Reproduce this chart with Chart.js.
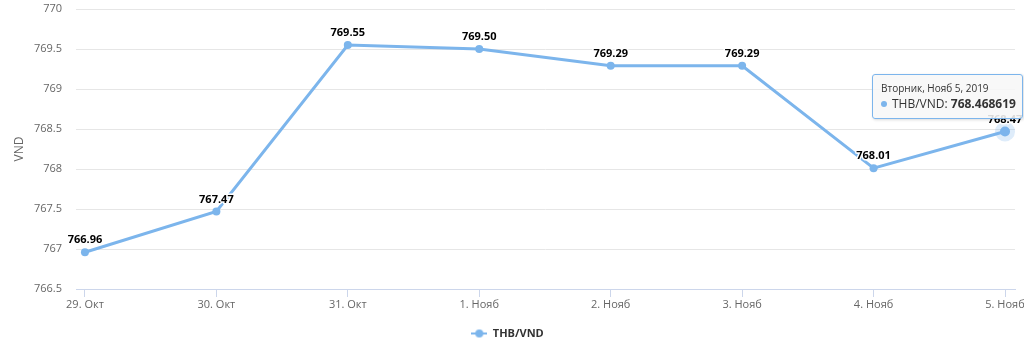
<!DOCTYPE html>
<html>
<head>
<meta charset="utf-8">
<script src="https://cdn.jsdelivr.net/npm/chart.js@4.4.0/dist/chart.umd.min.js"></script>
<style>
  html, body { margin: 0; padding: 0; background: #fff; }
  #wrap { position: relative; width: 1024px; height: 359px; }
  #tip {
    position: absolute; box-sizing: border-box; width: 151px; height: 45px;
    background: rgba(247,247,247,0.88); border: 1px solid #7cb5ec; border-radius: 3px;
    box-shadow: 1px 1px 3px rgba(0,0,0,0.15);
    font-family: 'Open Sans', sans-serif; color: #333; padding: 6px 8px;
    pointer-events: none; white-space: nowrap; display: none;
  }
  #tip .t { font-size: 10px; line-height: 14px; }
  #tip .b { font-size: 12px; line-height: 17px; }
  #tip .b i { display: inline-block; width: 6px; height: 6px; border-radius: 50%;
    background: #7cb5ec; margin-right: 5px; vertical-align: 1px; }
</style>
</head>
<body>
<div id="wrap">
  <canvas id="chart" width="1024" height="359"></canvas>
  <div id="tip"></div>
</div>
<script>
// data
let labels = ['29. Окт', '30. Окт', '31. Окт', '1. Нояб', '2. Нояб', '3. Нояб', '4. Нояб', '5. Нояб'];
let rates = [766.96, 767.47, 769.55, 769.50, 769.29, 769.29, 768.01, 768.468619];
let tipDates = ['Вторник, Окт 29, 2019', 'Среда, Окт 30, 2019', 'Четверг, Окт 31, 2019', 'Пятница, Нояб 1, 2019',
  'Суббота, Нояб 2, 2019', 'Воскресенье, Нояб 3, 2019', 'Понедельник, Нояб 4, 2019', 'Вторник, Нояб 5, 2019'];
let seriesName = 'THB/VND';
let yMin = 766.5, yMax = 770, yStep = 0.5;

Chart.defaults.font.family = "'Open Sans', sans-serif";
Chart.defaults.color = '#666';

// legend symbol: short line with a dot
function legendSymbol() {
  let c = document.createElement('canvas');
  c.width = 16; c.height = 10;
  let g = c.getContext('2d');
  g.strokeStyle = '#7cb5ec'; g.lineWidth = 2;
  g.beginPath(); g.moveTo(0, 5); g.lineTo(16, 5); g.stroke();
  g.fillStyle = '#7cb5ec';
  g.beginPath(); g.arc(8, 5, 4, 0, Math.PI * 2); g.fill();
  return c;
}

// value labels above points
const valueLabels = {
  id: 'valueLabels',
  afterDatasetsDraw(chart) {
    let ctx = chart.ctx;
    let meta = chart.getDatasetMeta(0);
    ctx.save();
    ctx.font = "bold 11px 'Open Sans', sans-serif";
    ctx.textAlign = 'center';
    ctx.textBaseline = 'middle';
    ctx.lineJoin = 'round';
    meta.data.forEach(function (pt, i) {
      let txt = rates[i].toFixed(2);
      ctx.strokeStyle = '#fff'; ctx.lineWidth = 3;
      ctx.strokeText(txt, pt.x, pt.y - 12);
      ctx.fillStyle = '#000';
      ctx.fillText(txt, pt.x, pt.y - 12);
    });
    ctx.restore();
  }
};

function externalTip(context) {
  let el = document.getElementById('tip');
  let tt = context.tooltip;
  if (tt.opacity === 0) { el.style.display = 'none'; return; }
  let idx = tt.dataPoints[0].dataIndex;
  el.innerHTML = '<div class="t">' + tipDates[idx] + '</div>' +
    '<div class="b"><i></i>' + seriesName + ': <b>' + rates[idx] + '</b></div>';
  el.style.display = 'block';
  el.style.left = (tt.caretX - 133) + 'px';
  el.style.top = (tt.caretY - 58) + 'px';
}

let chart = new Chart(document.getElementById('chart'), {
  type: 'line',
  data: {
    datasets: [{
      label: seriesName,
      data: rates.map((v, i) => ({ x: i, y: v })),
      borderColor: '#7cb5ec',
      backgroundColor: '#7cb5ec',
      borderWidth: 3,
      tension: 0,
      pointRadius: 4,
      pointBorderWidth: 0,
      pointHoverRadius: 5,
      pointHoverBorderWidth: 10,
      pointHoverBorderColor: 'rgba(124,181,236,0.25)',
      pointHoverBackgroundColor: '#7cb5ec'
    }]
  },
  options: {
    responsive: false,
    animation: false,
    layout: { padding: { top: 9, right: 9, bottom: 10, left: 0 } },
    scales: {
      x: {
        type: 'linear',
        min: -0.068,
        max: 7.076,
        afterBuildTicks: function (s) { s.ticks = labels.map((_, i) => ({ value: i })); },
        afterFit: function (s) { s.height = 29; s.paddingLeft = 0; s.paddingRight = 0; },
        ticks: {
          autoSkip: false, maxRotation: 0, padding: 1,
          color: '#666', font: { size: 11 },
          callback: v => labels[v]
        },
        grid: { drawOnChartArea: false, drawTicks: true, tickLength: 8, color: '#ccd6eb' },
        border: { display: true, color: '#ccd6eb' }
      },
      y: {
        min: yMin,
        max: yMax,
        afterBuildTicks: function (s) {
          let t = [];
          for (let v = yMin; v <= yMax + 1e-9; v += yStep) t.push({ value: v });
          s.ticks = t;
        },
        afterFit: function (s) { s.width = 76; s.paddingTop = 0; s.paddingBottom = 0; },
        ticks: { padding: 14, color: '#666', font: { size: 11 }, callback: v => String(v) },
        grid: { color: '#e6e6e6', drawTicks: false },
        border: { display: false },
        title: { display: true, text: 'VND', color: '#666', font: { size: 12 }, padding: { top: 12, bottom: 0 } }
      }
    },
    plugins: {
      legend: {
        position: 'bottom',
        labels: {
          usePointStyle: true,
          pointStyle: legendSymbol(),
          pointStyleWidth: 16,
          color: '#333',
          font: { size: 11, weight: 'bold' },
          padding: 10
        }
      },
      tooltip: { enabled: false, external: externalTip }
    }
  },
  plugins: [valueLabels]
});

let last = chart.getDatasetMeta(0).data[7];
chart.setActiveElements([{ datasetIndex: 0, index: 7 }]);
chart.tooltip.setActiveElements([{ datasetIndex: 0, index: 7 }], { x: last.x, y: last.y });
chart.update();
</script>
</body>
</html>
